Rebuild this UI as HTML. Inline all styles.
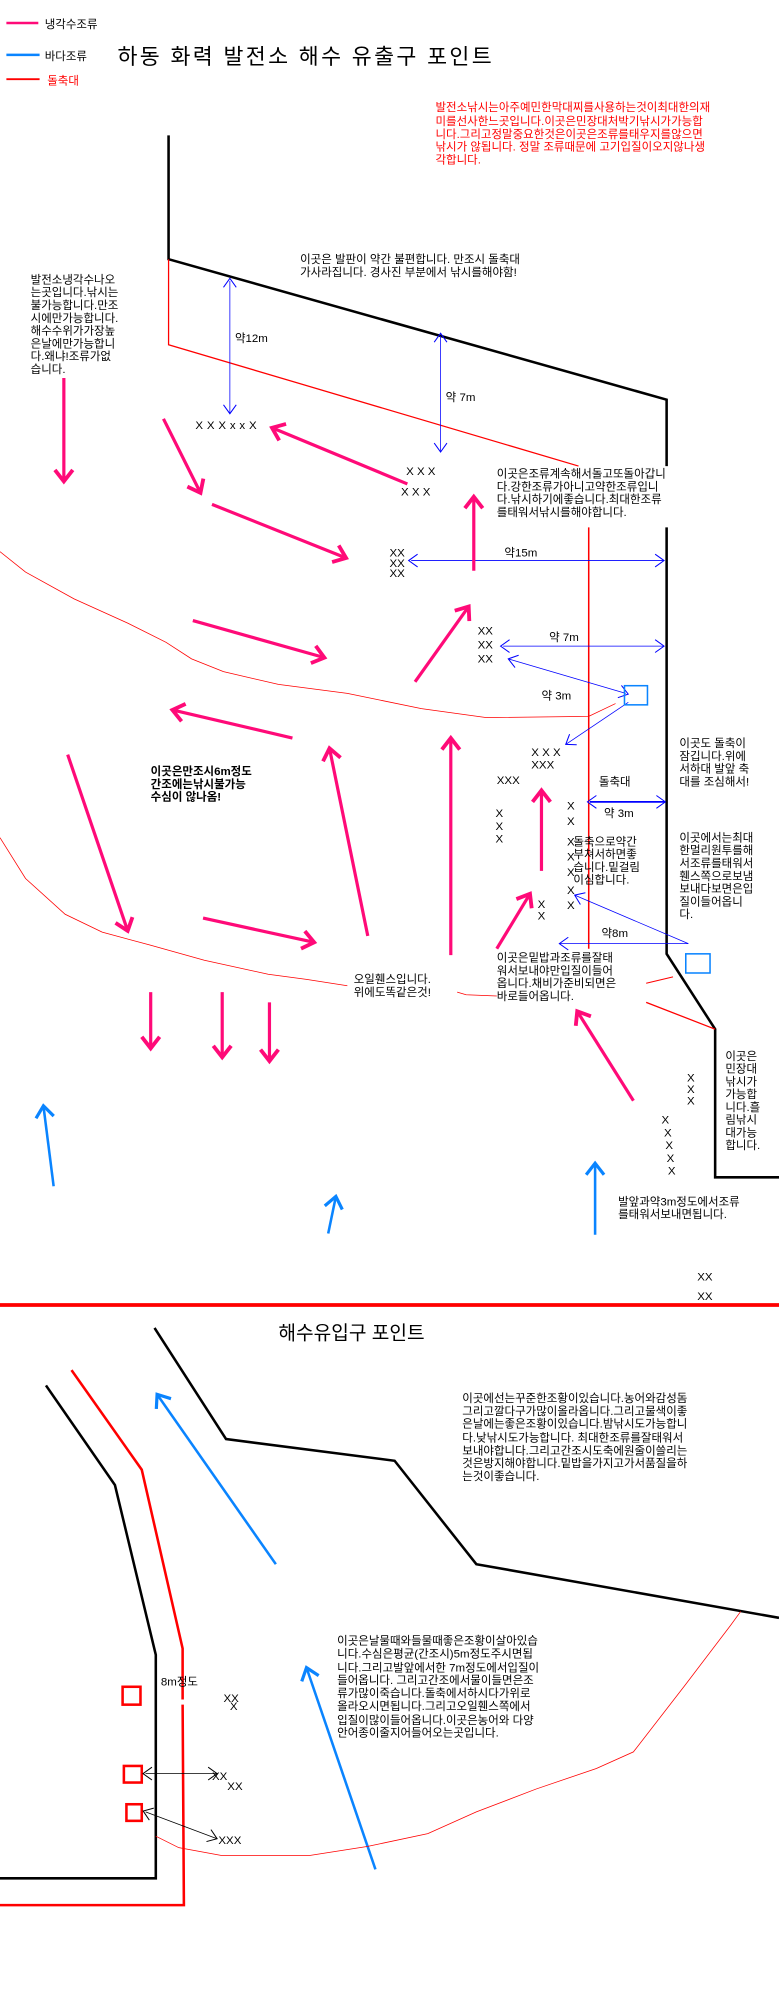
<!DOCTYPE html>
<html><head><meta charset="utf-8"><style>
html,body{margin:0;padding:0;background:#fff;}
svg{display:block;}
text{font-family:"Liberation Sans","Noto Sans CJK KR","NanumGothic",sans-serif;}
</style></head><body>
<svg width="779" height="2006" viewBox="0 0 610 1571" preserveAspectRatio="none" xmlns="http://www.w3.org/2000/svg">
<defs>
<marker id="pk" markerUnits="userSpaceOnUse" markerWidth="20" markerHeight="20" refX="10" refY="10" orient="auto"><path d="M1,3 L10,10 L1,17" fill="none" stroke="#ff0a78" stroke-width="3"/></marker>
<marker id="bl" markerUnits="userSpaceOnUse" markerWidth="20" markerHeight="20" refX="10" refY="10" orient="auto"><path d="M1,3 L10,10 L1,17" fill="none" stroke="#0a84ff" stroke-width="2.5"/></marker>
<marker id="db" markerUnits="userSpaceOnUse" markerWidth="14" markerHeight="14" refX="8" refY="7" orient="auto"><path d="M1,2 L8,7 L1,12" fill="none" stroke="#0000ff" stroke-width="0.8"/></marker>
<marker id="dbs" markerUnits="userSpaceOnUse" markerWidth="14" markerHeight="14" refX="6" refY="7" orient="auto-start-reverse"><path d="M1,2 L8,7 L1,12" fill="none" stroke="#0000ff" stroke-width="0.8"/></marker>
<marker id="bk" markerUnits="userSpaceOnUse" markerWidth="14" markerHeight="14" refX="8" refY="7" orient="auto"><path d="M1,2 L8,7 L1,12" fill="none" stroke="#000" stroke-width="0.8"/></marker>
<marker id="bks" markerUnits="userSpaceOnUse" markerWidth="14" markerHeight="14" refX="6" refY="7" orient="auto-start-reverse"><path d="M1,2 L8,7 L1,12" fill="none" stroke="#000" stroke-width="0.8"/></marker>
</defs>

<line x1="5" y1="18" x2="30" y2="18" stroke="#ff0a78" stroke-width="2"/>
<text x="35" y="22" font-size="9">냉각수조류</text>
<line x1="5" y1="43" x2="31" y2="43" stroke="#0a84ff" stroke-width="2"/>
<text x="35" y="47" font-size="9">바다조류</text>
<line x1="5" y1="62" x2="31" y2="62" stroke="#ff0000" stroke-width="1.5"/>
<text x="37" y="66" font-size="9" fill="#ff0000">돌축대</text>
<text x="92" y="50" font-size="17" textLength="293">하동 화력 발전소 해수 유출구 포인트</text>

<g font-size="9" fill="#ff0000">
<text x="341" y="87">발전소낚시는아주예민한막대찌를사용하는것이최대한의재</text>
<text x="341" y="98">미를선사한느곳입니다.이곳은민장대처박기낚시가가능합</text>
<text x="341" y="108">니다.그리고정말중요한것은이곳은조류를태우지를않으면</text>
<text x="341" y="118">낚시가 않됩니다. 정말 조류때문에 고기입질이오지않나생</text>
<text x="341" y="128">각합니다.</text>
</g>

<polyline points="132,106 132,203 522,313 522,365" fill="none" stroke="#000" stroke-width="2"/>
<polyline points="522,413 522,747 560,806 560,922 610,922" fill="none" stroke="#000" stroke-width="2"/>
<polyline points="132,203 132,270 453,365" fill="none" stroke="#ff0000" stroke-width="1"/>
<line x1="461" y1="413" x2="461" y2="743" stroke="#ff0000" stroke-width="1.2"/>
<line x1="506" y1="785" x2="560" y2="806" stroke="#ff0000" stroke-width="1"/>
<polyline points="506,770 527,765" fill="none" stroke="#ff0000" stroke-width="0.8"/>

<polyline points="0,432 20,448 58,469 100,488 130,503 150,516 175,526 218,536 272,543 330,555 381,562 461,561 482,551" fill="none" stroke="#ff0000" stroke-width="0.6"/>
<polyline points="0,656 20,688 51,716 80,730 117,740 160,752 210,763 240,767 272,772" fill="none" stroke="#ff0000" stroke-width="0.6"/>
<polyline points="358,777 365,779 389,780" fill="none" stroke="#ff0000" stroke-width="0.6"/>

<g stroke="#0000ff" stroke-width="0.6" fill="none">
<line x1="180" y1="220" x2="180" y2="324" marker-start="url(#dbs)" marker-end="url(#db)"/>
<line x1="345" y1="263" x2="345" y2="354" marker-start="url(#dbs)" marker-end="url(#db)"/>
<line x1="322" y1="439" x2="520" y2="439" marker-start="url(#dbs)" marker-end="url(#db)"/>
<line x1="394" y1="506" x2="520" y2="506" marker-start="url(#dbs)" marker-end="url(#db)"/>
<line x1="490" y1="543" x2="398" y2="516" marker-start="url(#dbs)" marker-end="url(#db)"/>
<line x1="492" y1="550" x2="443" y2="583" marker-end="url(#db)"/>
<line x1="539" y1="739" x2="450" y2="701" marker-end="url(#db)"/>
<line x1="539" y1="739" x2="438" y2="739" marker-end="url(#db)"/>
</g>
<line x1="462" y1="628" x2="521" y2="628" stroke="#0000ff" stroke-width="1.4" marker-start="url(#dbs)" marker-end="url(#db)"/>
<rect x="489" y="537" width="18" height="15" fill="none" stroke="#0a84ff" stroke-width="1.2"/>
<rect x="537" y="747" width="19" height="15" fill="none" stroke="#0a84ff" stroke-width="1.2"/>

<g font-size="9">
<text x="184" y="268">약12m</text>
<text x="349" y="314">약 7m</text>
<text x="395" y="436">약15m</text>
<text x="430" y="502">약 7m</text>
<text x="424" y="548">약 3m</text>
<text x="469" y="615">돌축대</text>
<text x="473" y="640">약 3m</text>
<text x="471" y="734">약8m</text>
</g>

<g stroke="#ff0a78" stroke-width="2.5" fill="none">
<line x1="50" y1="296" x2="50" y2="377" marker-end="url(#pk)"/>
<line x1="128" y1="328" x2="157" y2="386" marker-end="url(#pk)"/>
<line x1="319" y1="379" x2="213" y2="335" marker-end="url(#pk)"/>
<line x1="166" y1="395" x2="271" y2="437" marker-end="url(#pk)"/>
<line x1="371" y1="447" x2="371" y2="389" marker-end="url(#pk)"/>
<line x1="151" y1="486" x2="254" y2="515" marker-end="url(#pk)"/>
<line x1="325" y1="534" x2="367" y2="475" marker-end="url(#pk)"/>
<line x1="229" y1="578" x2="135" y2="556" marker-end="url(#pk)"/>
<line x1="53" y1="591" x2="100" y2="729" marker-end="url(#pk)"/>
<line x1="288" y1="733" x2="258" y2="586" marker-end="url(#pk)"/>
<line x1="353" y1="748" x2="353" y2="578" marker-end="url(#pk)"/>
<line x1="159" y1="719" x2="246" y2="738" marker-end="url(#pk)"/>
<line x1="424" y1="682" x2="424" y2="619" marker-end="url(#pk)"/>
<line x1="389" y1="743" x2="415" y2="700" marker-end="url(#pk)"/>
<line x1="496" y1="862" x2="452" y2="792" marker-end="url(#pk)"/>
<line x1="118" y1="777" x2="118" y2="821" marker-end="url(#pk)"/>
<line x1="174" y1="777" x2="174" y2="828" marker-end="url(#pk)"/>
<line x1="211" y1="785" x2="211" y2="831" marker-end="url(#pk)"/>
</g>
<g stroke="#0a84ff" stroke-width="2" fill="none">
<line x1="42" y1="929" x2="34" y2="866" marker-end="url(#bl)"/>
<line x1="257" y1="966" x2="263" y2="937" marker-end="url(#bl)"/>
<line x1="466" y1="967" x2="466" y2="911" marker-end="url(#bl)"/>
</g>

<g font-size="9" font-family="Liberation Sans,sans-serif">
<text x="153" y="336" textLength="48">XXXxxX</text>
<text x="318" y="372">X  X   X</text>
<text x="314" y="388">X  X   X</text>
<text x="305" y="436">XX</text>
<text x="305" y="444">XX</text>
<text x="305" y="452">XX</text>
<text x="374" y="497">XX</text>
<text x="374" y="508">XX</text>
<text x="374" y="519">XX</text>
<text x="416" y="592">X X X</text>
<text x="416" y="602">XXX</text>
<text x="389" y="614">XXX</text>
<text x="388" y="640">X</text><text x="388" y="650">X</text><text x="388" y="660">X</text>
<text x="444" y="634">X</text><text x="444" y="646">X</text><text x="444" y="662">X</text><text x="444" y="674">X</text><text x="444" y="686">X</text><text x="444" y="700">X</text><text x="444" y="712">X</text>
<text x="421" y="711">X</text><text x="421" y="720">X</text>
<text x="538" y="847">X</text><text x="538" y="856">X</text><text x="538" y="865">X</text>
<text x="518" y="880">X</text><text x="520" y="890">X</text><text x="521" y="900">X</text><text x="522" y="910">X</text><text x="523" y="920">X</text>
<text x="546" y="1003">XX</text><text x="546" y="1018">XX</text>
</g>

<g font-size="9">
<text x="235" y="206">이곳은 발판이 약간 불편합니다. 만조시 돌축대</text>
<text x="235" y="216">가사라집니다. 경사진 부분에서 낚시를해야함!</text>

<text x="24" y="222">발전소냉각수나오</text>
<text x="24" y="232">는곳입니다.낚시는</text>
<text x="24" y="242">불가능합니다.만조</text>
<text x="24" y="252">시에만가능합니다.</text>
<text x="24" y="262">해수수위가가장높</text>
<text x="24" y="272">은날에만가능합니</text>
<text x="24" y="282">다.왜냐!조류가없</text>
<text x="24" y="292">습니다.</text>

<text x="389" y="374">이곳은조류계속해서돌고또돌아갑니</text>
<text x="389" y="384">다.강한조류가아니고약한조류입니</text>
<text x="389" y="394">다.낚시하기에좋습니다.최대한조류</text>
<text x="389" y="404">를태워서낚시를해야합니다.</text>

<text x="532" y="585">이곳도 돌축이</text>
<text x="532" y="595">잠깁니다.위에</text>
<text x="532" y="605">서하대 발앞 축</text>
<text x="532" y="615">대를 조심해서!</text>

<text x="449" y="662">돌축으로약간</text>
<text x="449" y="672">부쳐서하면좋</text>
<text x="449" y="682">습니다.밑걸림</text>
<text x="449" y="692">이심합니다.</text>

<text x="532" y="659">이곳에서는최대</text>
<text x="532" y="669">한멀리원투를해</text>
<text x="532" y="679">서조류를태워서</text>
<text x="532" y="689">휀스쪽으로보냄</text>
<text x="532" y="699">보내다보면은입</text>
<text x="532" y="709">질이들어옵니</text>
<text x="532" y="719">다.</text>

<text x="389" y="753">이곳은밑밥과조류를잘태</text>
<text x="389" y="763">워서보내야만입질이들어</text>
<text x="389" y="773">옵니다.채비가준비되면은</text>
<text x="389" y="783">바로들어옵니다.</text>

<text x="277" y="770">오일휀스입니다.</text>
<text x="277" y="780">위에도똑같은것!</text>

<text x="568" y="830">이곳은</text>
<text x="568" y="840">민장대</text>
<text x="568" y="850">낚시가</text>
<text x="568" y="860">가능합</text>
<text x="568" y="870">니다.흘</text>
<text x="568" y="880">림낚시</text>
<text x="568" y="890">대가능</text>
<text x="568" y="900">합니다.</text>

<text x="484" y="944">발앞과약3m정도에서조류</text>
<text x="484" y="954">를태워서보내면됩니다.</text>
</g>
<g font-size="9" font-weight="bold">
<text x="118" y="607">이곳은만조시6m정도</text>
<text x="118" y="617">간조에는낚시불가능</text>
<text x="118" y="627">수심이 않나옴!</text>
</g>

<line x1="0" y1="1022" x2="610" y2="1022" stroke="#ff0000" stroke-width="3"/>

<text x="218" y="1049" font-size="15">해수유입구 포인트</text>
<polyline points="121,1040 177,1127 309,1144 373,1225 610,1267" fill="none" stroke="#000" stroke-width="2"/>
<polyline points="36,1085 90,1163 122,1296 122,1471 0,1471" fill="none" stroke="#000" stroke-width="2"/>
<polyline points="56,1073 111,1151 143,1291 143,1331" fill="none" stroke="#ff0000" stroke-width="2"/>
<polyline points="143,1335 144,1492 0,1492" fill="none" stroke="#ff0000" stroke-width="2"/>
<g stroke="#0a84ff" stroke-width="2" fill="none">
<line x1="216" y1="1225" x2="123" y2="1092" marker-end="url(#bl)"/>
<line x1="294" y1="1464" x2="240" y2="1306" marker-end="url(#bl)"/>
</g>
<g fill="none" stroke="#ff0000" stroke-width="2">
<rect x="96" y="1321" width="14" height="14"/>
<rect x="97" y="1383" width="14" height="13"/>
<rect x="99" y="1413" width="12" height="13"/>
</g>
<polyline points="122,1438 140,1447 173,1453 243,1453 288,1446 335,1436 373,1419 420,1401 467,1385 496,1372 537,1319 572,1273 580,1262" fill="none" stroke="#ff0000" stroke-width="0.6"/>
<line x1="114" y1="1389" x2="170" y2="1389" stroke="#000" stroke-width="0.6" marker-start="url(#bks)" marker-end="url(#bk)"/>
<line x1="114" y1="1419" x2="170" y2="1440" stroke="#000" stroke-width="0.6" marker-start="url(#bks)" marker-end="url(#bk)"/>
<g font-size="9" font-family="Liberation Sans,sans-serif">
<text x="175" y="1333">XX</text><text x="180" y="1339">X</text>
<text x="166" y="1394">XX</text><text x="178" y="1402">XX</text>
<text x="171" y="1444">XXX</text>
</g>
<g font-size="9">
<text x="126" y="1320">8m정도</text>
<text x="362" y="1098">이곳에선는꾸준한조황이있습니다.농어와감성돔</text>
<text x="362" y="1108">그리고깔다구가많이올라옵니다.그리고물색이좋</text>
<text x="362" y="1118">은날에는좋은조황이있습니다.밤낚시도가능합니</text>
<text x="362" y="1129">다.낮낚시도가능합니다. 최대한조류를잘태워서</text>
<text x="362" y="1139">보내야합니다.그리고간조시도축에원줄이쓸리는</text>
<text x="362" y="1149">것은방지해야합니다.밑밥을가지고가서품질을하</text>
<text x="362" y="1159">는것이좋습니다.</text>

<text x="264" y="1288">이곳은날물때와들물때좋은조황이살아있습</text>
<text x="264" y="1298">니다.수심은평균(간조시)5m정도주시면됩</text>
<text x="264" y="1309">니다.그리고발앞에서한 7m정도에서입질이</text>
<text x="264" y="1319">들어옵니다. 그리고간조에서물이들면은조</text>
<text x="264" y="1329">류가많이죽습니다.돌축에서하시다가위로</text>
<text x="264" y="1339">올라오시면됩니다.그리고오일휀스쪽에서</text>
<text x="264" y="1350">입질이많이들어옵니다.이곳은농어와 다양</text>
<text x="264" y="1360">안어종이줄지어들어오는곳입니다.</text>
</g>
</svg>
</body></html>
